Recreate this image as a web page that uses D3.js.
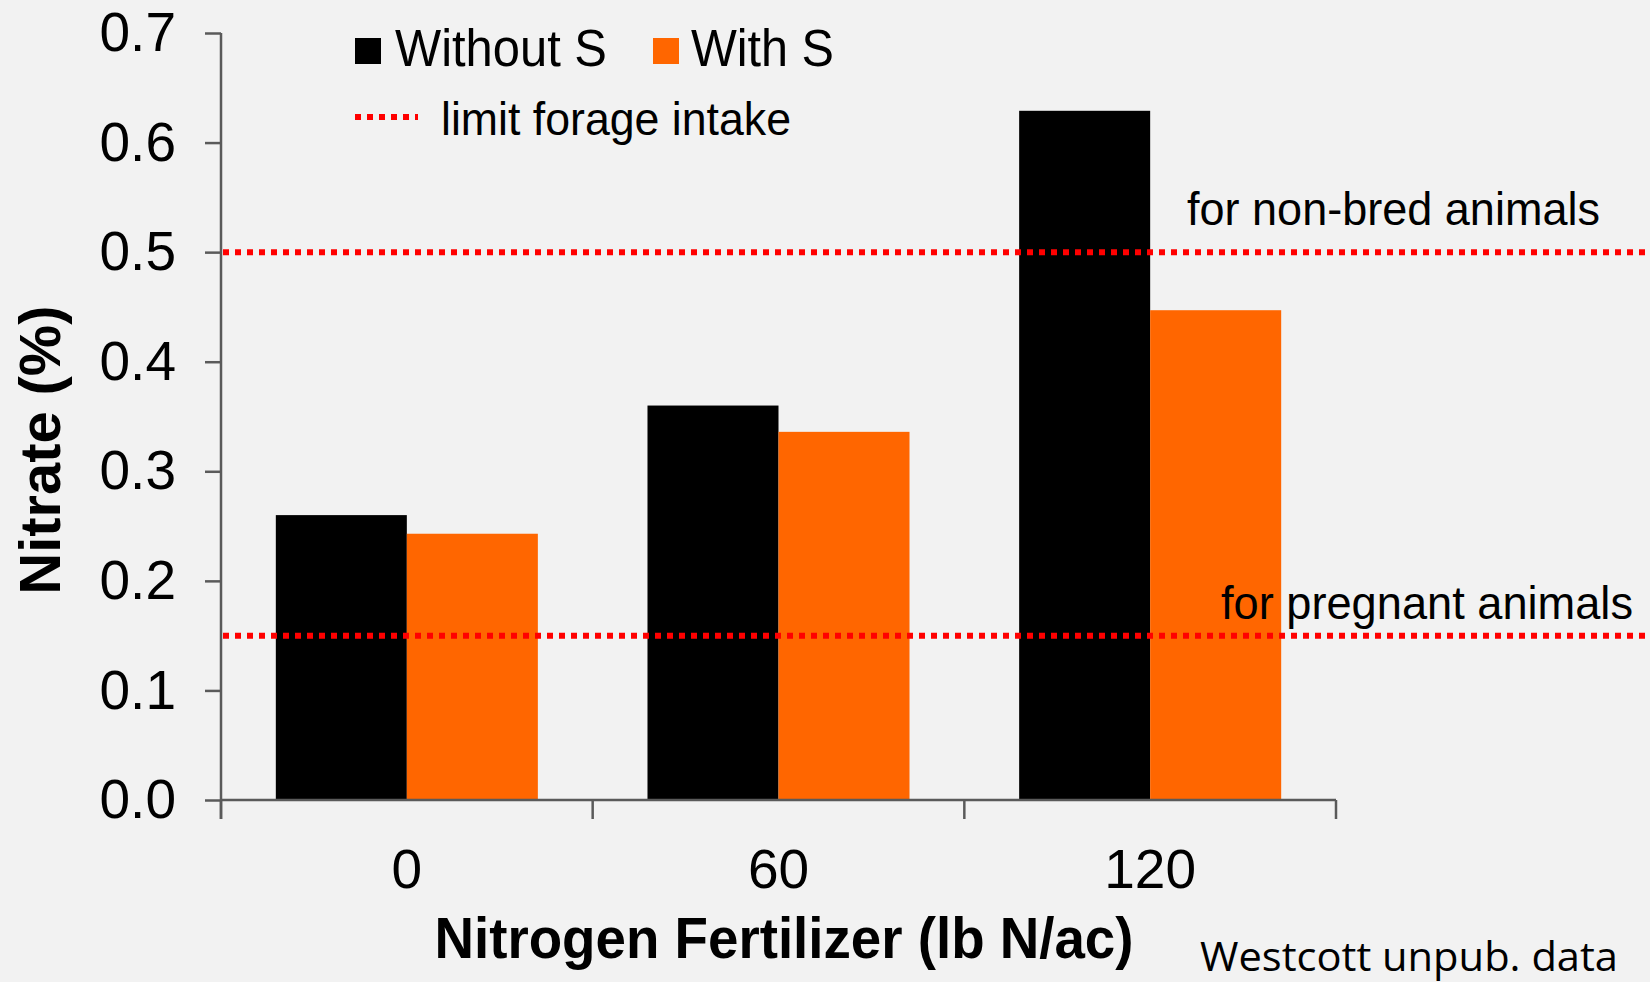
<!DOCTYPE html>
<html><head><meta charset="utf-8">
<script src="https://cdn.jsdelivr.net/npm/d3@7"></script>
<style>html,body{margin:0;padding:0;background:#f2f2f2;}svg{display:block;}</style>
</head><body>
<script>
const categories = ["0", "60", "120"];
const withoutS = [0.26, 0.36, 0.629];
const withS = [0.243, 0.336, 0.447];
const seriesNames = ["Without S", "With S"];
const seriesColors = ["#000000", "#ff6600"];
const limitValues = [0.5, 0.15];
const limitLabels = ["for non-bred animals", "for pregnant animals"];
const yTicks = [0, 0.1, 0.2, 0.3, 0.4, 0.5, 0.6, 0.7];

(function () {
const W = 1650, H = 982;
const svg = d3.select("body").append("svg").attr("width", W).attr("height", H);
svg.append("rect").attr("width", W).attr("height", H).attr("fill", "#f2f2f2");

const pLeft = 221, pRight = 1336, pBottom = 800, pTop = 33;
const x = d3.scaleBand().domain(categories).range([pLeft, pRight]).paddingInner(0.295).paddingOuter(0.1475);
const xs = d3.scaleBand().domain(seriesNames).range([0, x.bandwidth()]);
const y = d3.scaleLinear().domain([0, 0.7]).range([pBottom, pTop]);
const FONT = "'Liberation Sans', Arial, sans-serif";
const axisColor = "#5a5a5a";

// bars
const data = categories.map((c, i) => ({c, vals: [withoutS[i], withS[i]]}));
const g = svg.append("g");
data.forEach(d => {
  d.vals.forEach((v, j) => {
    g.append("rect")
      .attr("x", x(d.c) + xs(seriesNames[j]))
      .attr("y", y(v))
      .attr("width", xs.bandwidth())
      .attr("height", y(0) - y(v))
      .attr("fill", seriesColors[j]);
  });
});

// y axis
const yAxis = d3.axisLeft(y).tickValues(yTicks).tickFormat(d3.format(".1f")).tickSize(16).tickPadding(29);
const ya = svg.append("g").attr("transform", `translate(${pLeft},0)`).call(yAxis);
ya.select(".domain").remove();
ya.selectAll(".tick line").attr("stroke", axisColor).attr("stroke-width", 2.5);
ya.selectAll(".tick text").attr("font-family", FONT).attr("font-size", 55).attr("fill", "#000");
svg.append("line").attr("x1", pLeft).attr("x2", pLeft).attr("y1", pTop).attr("y2", pBottom + 19)
  .attr("stroke", axisColor).attr("stroke-width", 2.5);

// x axis
svg.append("line").attr("x1", pLeft).attr("x2", pRight).attr("y1", pBottom).attr("y2", pBottom)
  .attr("stroke", axisColor).attr("stroke-width", 2.5);
const edges = categories.map(c => x(c) - x.step() * x.paddingInner() / 2).concat([pRight]);
svg.selectAll(".xedge").data(edges).enter().append("line")
  .attr("x1", d => d).attr("x2", d => d).attr("y1", pBottom).attr("y2", pBottom + 19)
  .attr("stroke", axisColor).attr("stroke-width", 2.5);
svg.selectAll(".xlab").data(categories).enter().append("text")
  .attr("x", d => x(d) + x.bandwidth() / 2).attr("y", 888)
  .attr("text-anchor", "middle").attr("font-family", FONT).attr("font-size", 55).text(d => d);

// limit lines
limitValues.forEach((v, i) => {
  svg.append("line").attr("x1", pLeft + 2).attr("x2", W).attr("y1", y(v)).attr("y2", y(v))
    .attr("stroke", "#ff0000").attr("stroke-width", 6).attr("stroke-dasharray", "6,6");
});
svg.append("text").attr("x", 1187).attr("y", 225).attr("font-family", FONT).attr("font-size", 46)
  .attr("textLength", 413).attr("lengthAdjust", "spacingAndGlyphs").text(limitLabels[0]);
svg.append("text").attr("x", 1221).attr("y", 619).attr("font-family", FONT).attr("font-size", 46)
  .attr("textLength", 412).attr("lengthAdjust", "spacingAndGlyphs").text(limitLabels[1]);

// axis titles
svg.append("text").attr("x", 784).attr("y", 958).attr("text-anchor", "middle")
  .attr("font-family", FONT).attr("font-weight", "bold").attr("font-size", 57)
  .attr("textLength", 699).attr("lengthAdjust", "spacingAndGlyphs").text("Nitrogen Fertilizer (lb N/ac)");
svg.append("text").attr("transform", "translate(60,450) rotate(-90)").attr("text-anchor", "middle")
  .attr("font-family", FONT).attr("font-weight", "bold").attr("font-size", 57)
  .attr("textLength", 289).attr("lengthAdjust", "spacingAndGlyphs").text("Nitrate (%)");

// legend
svg.append("rect").attr("x", 355).attr("y", 38).attr("width", 26).attr("height", 26).attr("fill", seriesColors[0]);
svg.append("text").attr("x", 395).attr("y", 66).attr("font-family", FONT).attr("font-size", 51)
  .attr("textLength", 212).attr("lengthAdjust", "spacingAndGlyphs").text(seriesNames[0]);
svg.append("rect").attr("x", 653).attr("y", 38).attr("width", 26).attr("height", 26).attr("fill", seriesColors[1]);
svg.append("text").attr("x", 691).attr("y", 66).attr("font-family", FONT).attr("font-size", 51)
  .attr("textLength", 143).attr("lengthAdjust", "spacingAndGlyphs").text(seriesNames[1]);
svg.append("line").attr("x1", 355).attr("x2", 418).attr("y1", 117).attr("y2", 117)
  .attr("stroke", "#ff0000").attr("stroke-width", 6).attr("stroke-dasharray", "6,6");
svg.append("text").attr("x", 441).attr("y", 135).attr("font-family", FONT).attr("font-size", 47)
  .attr("textLength", 350).attr("lengthAdjust", "spacingAndGlyphs").text("limit forage intake");

// source note
svg.append("text").attr("x", 1200).attr("y", 971).attr("font-family", "'Open Sans', 'Noto Sans', sans-serif").attr("font-size", 41)
  .attr("textLength", 418).attr("lengthAdjust", "spacingAndGlyphs").text("Westcott unpub. data");
})();
</script>
</body></html>
